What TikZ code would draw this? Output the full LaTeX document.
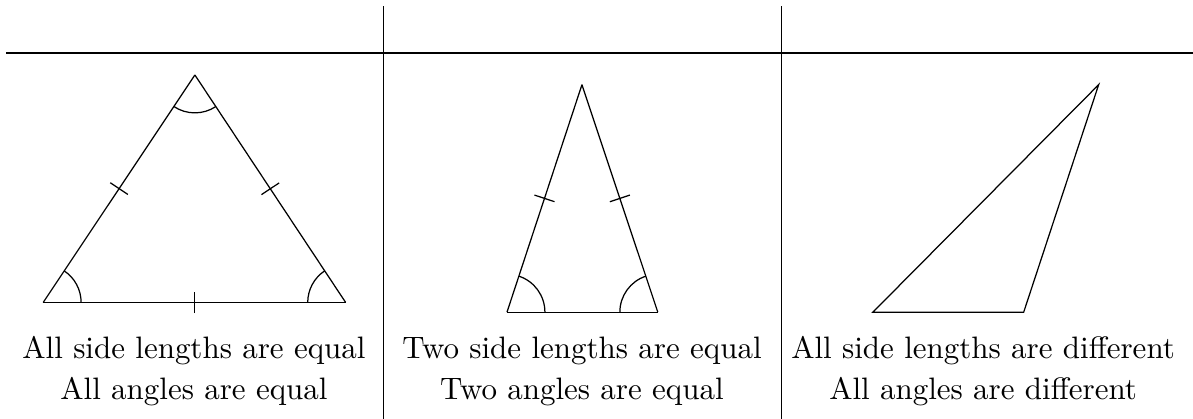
\documentclass[tikz,border=0pt]{standalone}
\usetikzlibrary{angles, decorations.markings}

\begin{document}
\begin{tikzpicture}[
    eqside/.style={postaction={decorate, decoration={markings,
        mark=at position 0.5 with {\draw (0,-0.12) -- (0,0.12);}}}},
    ang/.style={draw, angle radius=0.43cm},
    lab/.style={anchor=base, inner sep=0pt}
  ]
  \useasboundingbox (0,0) rectangle (13.53,4.75);
  % table rules
  \coordinate (hl)  at (0.07,4.15);
  \coordinate (hr)  at (13.53,4.15);
  \coordinate (v1t) at (4.35,4.68);
  \coordinate (v1b) at (4.35,0);
  \coordinate (v2t) at (8.86,4.68);
  \coordinate (v2b) at (8.86,0);
  \draw (hl) -- (hr);
  \draw (v1t) -- (v1b);
  \draw (v2t) -- (v2b);

  % equilateral
  \coordinate (eA) at (0.49,1.32);
  \coordinate (eB) at (3.92,1.32);
  \coordinate (eC) at (2.21,3.90);
  \draw[eqside] (eA) -- (eB);
  \draw[eqside] (eB) -- (eC);
  \draw[eqside] (eC) -- (eA);
  \pic[ang] {angle = eB--eA--eC};
  \pic[ang] {angle = eC--eB--eA};
  \pic[ang] {angle = eA--eC--eB};
  \node[lab] (eq1) at (2.20,0.68) {All side lengths are equal};
  \node[lab] (eq2) at (2.20,0.22) {All angles are equal};

  % isosceles
  \coordinate (iA) at (5.75,1.21);
  \coordinate (iB) at (7.46,1.21);
  \coordinate (iC) at (6.60,3.79);
  \draw (iA) -- (iB);
  \draw[eqside] (iB) -- (iC);
  \draw[eqside] (iC) -- (iA);
  \pic[ang] {angle = iB--iA--iC};
  \pic[ang] {angle = iC--iB--iA};
  \node[lab] (is1) at (6.60,0.68) {Two side lengths are equal};
  \node[lab] (is2) at (6.60,0.22) {Two angles are equal};

  % scalene
  \coordinate (sA) at (9.90,1.21);
  \coordinate (sB) at (11.61,1.21);
  \coordinate (sC) at (12.46,3.79);
  \draw (sA) -- (sB) -- (sC) -- cycle;
  \node[lab] (sc1) at (11.15,0.68) {All side lengths are different};
  \node[lab] (sc2) at (11.15,0.22) {All angles are different};
\end{tikzpicture}
\end{document}
